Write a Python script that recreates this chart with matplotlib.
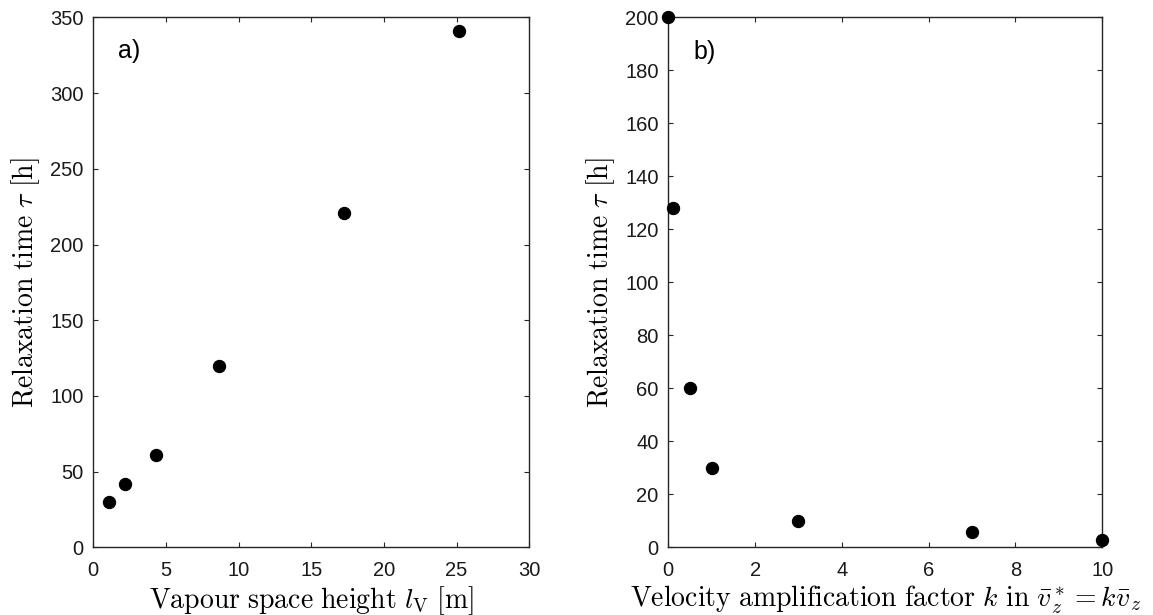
import matplotlib
matplotlib.use("Agg")
import matplotlib.pyplot as plt

# vapour space height [m] vs relaxation time [h]
height_m = [1.08, 2.16, 4.32, 8.64, 17.28, 25.2]
tau_height_h = [30, 42, 61, 120, 221, 341]

# velocity amplification factor k vs relaxation time [h]
k_factor = [0, 0.1, 0.5, 1, 3, 7, 10]
tau_k_h = [200, 128, 60, 30, 10, 6, 3]

plt.rcParams['font.family'] = ['Liberation Sans', 'DejaVu Sans']
plt.rcParams['mathtext.fontset'] = 'cm'

fig = plt.figure(figsize=(11.53, 6.15), dpi=100)
ax1 = fig.add_axes([0.0809, 0.1098, 0.3781, 0.8621])
ax2 = fig.add_axes([0.5796, 0.1098, 0.3764, 0.8621])

edge = (0.15, 0.15, 0.15)
ylab = r'$\mathrm{Relaxation\ time}\ \tau\ [\mathrm{h}]$'


def style(ax):
    for s in ax.spines.values():
        s.set_color(edge)
        s.set_linewidth(1.0)
    ax.tick_params(direction='in', top=True, right=True, length=3.6,
                   width=0.8, color=edge, labelsize=14.5,
                   labelcolor=(0.1, 0.1, 0.1))
    ax.tick_params(axis='x', pad=9.5)
    ax.tick_params(axis='y', pad=7)


ax1.plot(height_m, tau_height_h, 'o', color='black', markersize=8.8,
         markeredgewidth=0.8, clip_on=False, zorder=5)
ax1.set_xlim(0, 30)
ax1.set_ylim(0, 350)
ax1.set_xticks(range(0, 31, 5))
ax1.set_yticks(range(0, 351, 50))
ax1.set_xlabel(r'$\mathrm{Vapour\ space\ height}\ l_\mathrm{V}\ [\mathrm{m}]$',
               fontsize=20, labelpad=3)
ax1.set_ylabel(ylab, fontsize=20, labelpad=6)
ax1.text(1.70, 328, 'a)', fontsize=18, va='center', ha='left')
style(ax1)

ax2.plot(k_factor, tau_k_h, 'o', color='black', markersize=8.8,
         markeredgewidth=0.8, clip_on=False, zorder=5)
ax2.set_xlim(0, 10)
ax2.set_ylim(0, 200)
ax2.set_xticks(range(0, 11, 2))
ax2.set_yticks(range(0, 201, 20))
ax2.set_xlabel(r'$\mathrm{Velocity\ amplification\ factor}\ k\ \mathrm{in}\ '
               r'\bar{v}_z^* = k\bar{v}_z$', fontsize=20, labelpad=3)
ax2.set_ylabel(ylab, fontsize=20, labelpad=6)
ax2.text(0.58, 187, 'b)', fontsize=18, va='center', ha='left')
style(ax2)

fig.savefig('out.png', dpi=100)
